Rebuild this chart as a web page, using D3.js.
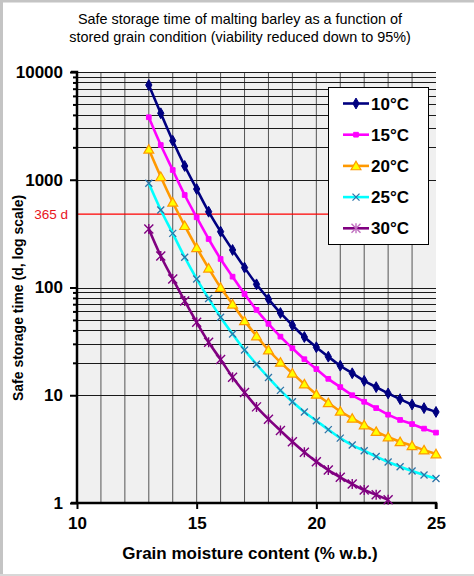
<!DOCTYPE html>
<html>
<head>
<meta charset="utf-8">
<script src="https://cdn.jsdelivr.net/npm/d3@7"></script>
<style>
  body { margin: 0; background: #fff; }
  text { font-family: "Liberation Sans", Arial, sans-serif; }
</style>
</head>
<body>
<div id="chart"></div>
<script>
// moisture content (% w.b.)
var moisture = [13, 13.5, 14, 14.5, 15, 15.5, 16, 16.5, 17, 17.5, 18, 18.5, 19,
                19.5, 20, 20.5, 21, 21.5, 22, 22.5, 23, 23.5, 24, 24.5, 25];

// safe storage time (days) per temperature
var t10 = [7570, 4140, 2300, 1342, 820, 505, 330, 223, 153, 107, 78, 58, 44.6,
           34.7, 27.9, 22.8, 18.8, 16.0, 13.6, 11.9, 10.4, 9.2, 8.2, 7.6, 7.0];
var t15 = [3800, 2100, 1231, 722, 448, 282, 184, 126, 87, 62, 46, 35, 27.3,
           21.6, 17.5, 14.2, 11.9, 10.0, 8.7, 7.6, 6.6, 5.9, 5.4, 4.9, 4.5];
var t20 = [1918, 1067, 618, 375, 234, 151, 100, 70, 49, 35.5, 26.3, 20.2, 16.0,
           12.7, 10.2, 8.5, 7.1, 6.1, 5.3, 4.6, 4.1, 3.7, 3.4, 3.1, 2.85];
var t25 = [927, 524, 318, 191, 120, 79, 53, 37, 26.3, 19.4, 14.6, 11.1, 8.7,
           7.0, 5.8, 4.8, 4.0, 3.45, 3.05, 2.7, 2.4, 2.17, 1.98, 1.82, 1.69];
var t30 = [349, 196, 120, 75, 47.5, 31, 21.5, 14.7, 10.6, 7.8, 6.0, 4.7, 3.7,
           2.96, 2.42, 2.02, 1.73, 1.50, 1.32, 1.19, 1.07];

var seriesNames = ["10°C", "15°C", "20°C", "25°C", "30°C"];

var xTicks = [10, 15, 20, 25];
var xGrid = [11, 12, 13, 14, 15, 16, 17, 18, 19, 20, 21, 22, 23, 24];
var yTicks = [1, 10, 100, 1000, 10000];
var yMinor = [20, 30, 40, 50, 60, 70, 80, 90, 2000, 3000, 4000, 5000, 6000, 7000, 8000, 9000];

// reference line as drawn in the picture, labelled 365 d
var refLabel = "365 d";
var refValue = 480;

var svg = d3.select("#chart")
  .append("svg")
    .attr("width", 474)
    .attr("height", 576);

// grey frame of the original picture
svg.append("path")
    .attr("d", "M1.5,576 L1.5,1 L474,1")
    .style("fill", "none")
    .style("stroke", "#c4c4c4")
    .style("stroke-width", 3);
svg.append("line")
    .attr("x1", 0).attr("x2", 474)
    .attr("y1", 575).attr("y2", 575)
    .style("stroke", "#d8d8d8")
    .style("stroke-width", 2);

var x = d3.scaleLinear().domain([10, 25]).range([77, 436]);
var y = d3.scaleLog().domain([1, 10000]).range([503, 72]);

// plot area
svg.append("rect")
    .attr("x", x(10)).attr("y", y(10000))
    .attr("width", x(25) - x(10))
    .attr("height", y(1) - y(10000))
    .style("fill", "#f0f0f0");

svg.append("g").selectAll("line")
  .data(xGrid)
  .join("line")
    .attr("x1", d => x(d)).attr("x2", d => x(d))
    .attr("y1", y(10000)).attr("y2", y(1))
    .style("stroke", "#555")
    .style("stroke-width", 1);

svg.append("g").selectAll("line")
  .data(yTicks.slice(1).concat(yMinor))
  .join("line")
    .attr("x1", x(10)).attr("x2", x(25))
    .attr("y1", d => Math.round(y(d)) + 0.5).attr("y2", d => Math.round(y(d)) + 0.5)
    .style("stroke", "#1a1a1a")
    .style("stroke-width", 1);

// red reference line
svg.append("line")
    .attr("x1", x(10)).attr("x2", x(21))
    .attr("y1", y(refValue)).attr("y2", y(refValue))
    .style("stroke", "#ff0000")
    .style("stroke-width", 1.2);
svg.append("text")
    .attr("x", 68).attr("y", y(refValue) + 5)
    .attr("text-anchor", "end")
    .style("font-size", "13.5px")
    .style("fill", "#e8141c")
    .text(refLabel);

// axes
var yAxis = d3.axisLeft(y)
    .tickValues(yTicks.concat(yMinor))
    .tickSize(6)
    .tickFormat(d => yTicks.indexOf(d) >= 0 ? d : "");
var gy = svg.append("g")
    .attr("transform", "translate(" + x(10) + ",0)")
    .call(yAxis);
gy.select(".domain").style("stroke-width", 2.5).attr("d", "M-6," + y(10000) + "H0V" + y(1) + "H-6");
gy.selectAll(".tick line").style("stroke-width", 2)
    .attr("x2", d => yTicks.indexOf(d) >= 0 ? -7 : -4);
gy.selectAll(".tick text")
    .attr("x", -14)
    .style("font-size", "17px")
    .style("font-weight", "bold")
    .style("fill", "#000");

var xAxis = d3.axisBottom(x)
    .tickValues(xTicks)
    .tickSize(6)
    .tickPadding(8);
var gx = svg.append("g")
    .attr("transform", "translate(0," + y(1) + ")")
    .call(xAxis);
gx.select(".domain").style("stroke-width", 2.5).attr("d", "M" + x(10) + ",0H" + x(25) + "V6");
gx.selectAll(".tick line").style("stroke-width", 2);
gx.selectAll(".tick text")
    .style("font-size", "17px")
    .style("font-weight", "bold")
    .style("fill", "#000");

// titles
svg.append("text")
    .attr("x", 240).attr("y", 24)
    .attr("text-anchor", "middle")
    .style("font-size", "14.4px")
    .text("Safe storage time of malting barley as a function of");
svg.append("text")
    .attr("x", 240).attr("y", 42)
    .attr("text-anchor", "middle")
    .style("font-size", "14.4px")
    .text("stored grain condition (viability reduced down to 95%)");

svg.append("text")
    .attr("x", 250).attr("y", 559)
    .attr("text-anchor", "middle")
    .style("font-size", "17px")
    .style("font-weight", "bold")
    .text("Grain moisture content (% w.b.)");

svg.append("text")
    .attr("transform", "translate(23,298) rotate(-90)")
    .attr("text-anchor", "middle")
    .style("font-size", "14px")
    .style("font-weight", "bold")
    .text("Safe storage time (d, log scale)");

// series
var series = [
  { name: seriesNames[0], values: t10, color: "#000080", marker: "diamond" },
  { name: seriesNames[1], values: t15, color: "#ff00ff", marker: "square" },
  { name: seriesNames[2], values: t20, color: "#ff9900", marker: "triangle" },
  { name: seriesNames[3], values: t25, color: "#00ffff", marker: "cross" },
  { name: seriesNames[4], values: t30, color: "#800080", marker: "star" }
];

var line = d3.line()
    .x(d => x(d[0]))
    .y(d => y(d[1]))
    .curve(d3.curveCatmullRom.alpha(0.5));

function drawMarker(g, type, color, legend) {
  if (type == "diamond") {
    g.append("path").attr("d", d3.symbol(d3.symbolDiamond, 34)())
      .style("fill", color).style("stroke", color);
  } else if (type == "square") {
    g.append("path").attr("d", d3.symbol(d3.symbolSquare, 22)())
      .style("fill", color).style("stroke", color);
  } else if (type == "triangle") {
    g.append("path").attr("d", d3.symbol(d3.symbolTriangle, 42)())
      .attr("transform", "translate(0,1)")
      .style("fill", "#ffff00").style("stroke", color).style("stroke-width", 1.2);
  } else if (type == "cross") {
    g.append("path").attr("d", "M-3.5,-3.5L3.5,3.5M-3.5,3.5L3.5,-3.5")
      .style("fill", "none").style("stroke", "#2e74a8").style("stroke-width", 1.3);
  } else {
    g.append("path").attr("d", "M-4.5,-4.5L4.5,4.5M-4.5,4.5L4.5,-4.5M0,-5L0,5")
      .style("fill", "none").style("stroke", legend ? "#c070c0" : color).style("stroke-width", 1.4);
  }
}

series.forEach(function(s) {
  var pts = s.values.map((v, i) => [moisture[i], v]);
  svg.append("path")
    .datum(pts)
    .attr("d", line)
    .style("fill", "none")
    .style("stroke", s.color)
    .style("stroke-width", 2.6);
  pts.forEach(function(p) {
    var g = svg.append("g").attr("transform", "translate(" + x(p[0]) + "," + y(p[1]) + ")");
    drawMarker(g, s.marker, s.color, false);
  });
});

// legend
var legend = svg.append("g").attr("transform", "translate(328,87)");
legend.append("rect")
    .attr("x", 0.5).attr("y", 0.5)
    .attr("width", 100).attr("height", 157)
    .style("fill", "#fff")
    .style("stroke", "#000")
    .style("stroke-width", 1);

series.forEach(function(s, i) {
  var row = legend.append("g").attr("transform", "translate(0," + (16.5 + i * 31.2) + ")");
  row.append("line")
    .attr("x1", 15).attr("x2", 41)
    .style("stroke", s.color)
    .style("stroke-width", 2.6);
  var m = row.append("g").attr("transform", "translate(28,0)");
  drawMarker(m, s.marker, s.color, true);
  row.append("text")
    .attr("x", 43).attr("y", 6)
    .style("font-size", "17px")
    .style("font-weight", "bold")
    .text(s.name);
});
</script>
</body>
</html>
